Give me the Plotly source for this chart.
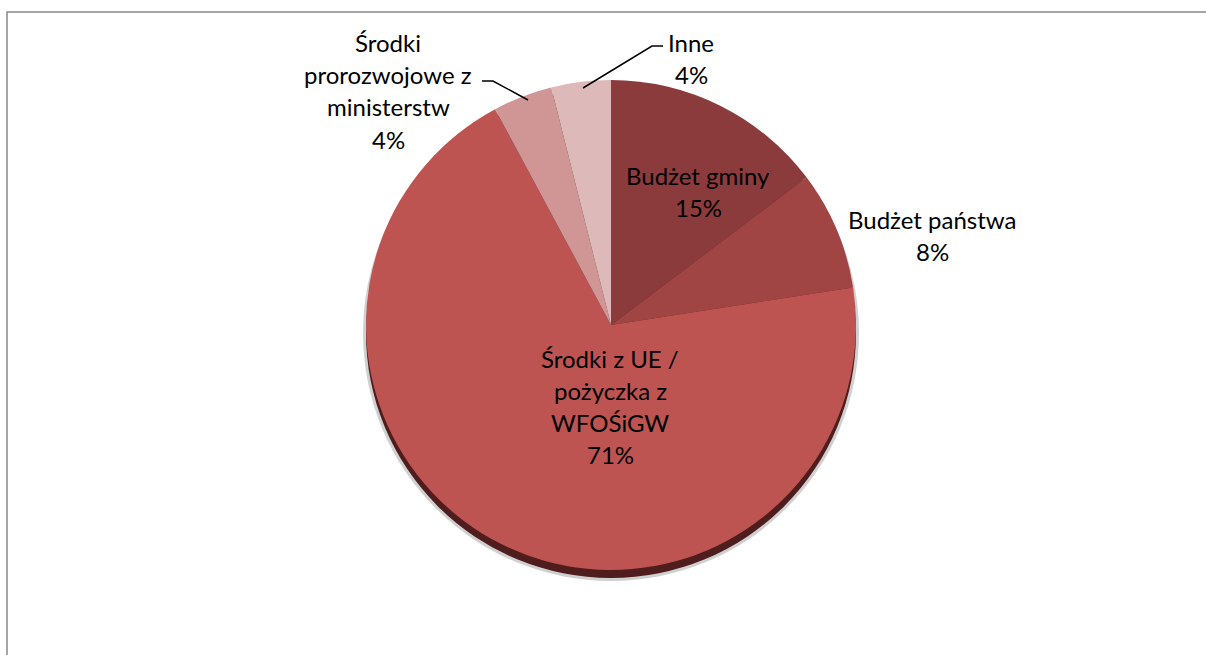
import plotly.graph_objects as go

# ---- data ----
labels = ["Budżet gminy", "Budżet państwa", "Środki z UE / pożyczka z WFOŚiGW",
          "Środki prorozwojowe z ministerstw", "Inne"]
label_lines = [["Budżet gminy"], ["Budżet państwa"],
               ["Środki z UE /", "pożyczka z", "WFOŚiGW"],
               ["Środki", "prorozwojowe z", "ministerstw"], ["Inne"]]
values = [15, 8, 71, 4, 4]
colors = ["#8C3B3D", "#A04543", "#BE5452", "#D09595", "#DDB9B9"]

W, H = 1206, 655
def px(x): return x / W
def py(y): return 1 - y / H

cx, cy, r = 611, 325, 245

fig = go.Figure()
fig.add_trace(go.Pie(
    labels=labels, values=values, sort=False, direction="clockwise", rotation=0,
    marker=dict(colors=colors, line=dict(width=0)),
    textinfo="none", hoverinfo="label+percent", showlegend=False,
    domain=dict(x=[px(cx - r), px(cx + r)], y=[py(cy + r), py(cy - r)]),
))

shapes = [
    # soft outer shadow
    dict(type="circle", xref="paper", yref="paper", layer="below",
         x0=px(cx - r - 3), x1=px(cx + r + 3), y0=py(cy + r + 11), y1=py(cy - r + 5),
         fillcolor="rgba(120,120,120,0.35)", line=dict(width=0)),
    # dark side of the disc
    dict(type="circle", xref="paper", yref="paper", layer="below",
         x0=px(cx - r), x1=px(cx + r), y0=py(cy + r + 8), y1=py(cy - r + 8),
         fillcolor="#4F1D1D", line=dict(width=0)),
    # chart frame
    dict(type="rect", xref="paper", yref="paper",
         x0=px(7), x1=1.05, y0=-0.05, y1=py(12),
         line=dict(color="#888888", width=1.5), fillcolor="rgba(0,0,0,0)"),
    # leader lines
    dict(type="path", xref="paper", yref="paper",
         path=f"M {px(663)} {py(46)} L {px(652)} {py(46)} L {px(583)} {py(88)}",
         line=dict(color="black", width=1.5)),
    dict(type="path", xref="paper", yref="paper",
         path=f"M {px(482)} {py(81)} L {px(493)} {py(81)} L {px(528)} {py(100)}",
         line=dict(color="black", width=1.5)),
]

# label anchor positions (center x, first line y) in pixels
anchors = [(698, 175), (932, 219), (610, 358), (388, 43), (691, 42)]
line_gap = 32
annotations = []
for lines, v, (ax, ay) in zip(label_lines, values, anchors):
    all_lines = lines + [f"{v}%"]
    for i, t in enumerate(all_lines):
        annotations.append(dict(
            x=px(ax), y=py(ay + i * line_gap), xref="paper", yref="paper",
            text=t, showarrow=False, xanchor="center", yanchor="middle",
            font=dict(family="Lato, Carlito, sans-serif", size=24, color="black")))

fig.update_layout(
    width=W, height=H, margin=dict(l=0, r=0, t=0, b=0),
    paper_bgcolor="white", plot_bgcolor="white",
    shapes=shapes, annotations=annotations,
)
fig.write_html("out.html", config={"displayModeBar": False},
               post_script="document.body.style.margin='0';document.body.style.overflow='hidden';")
